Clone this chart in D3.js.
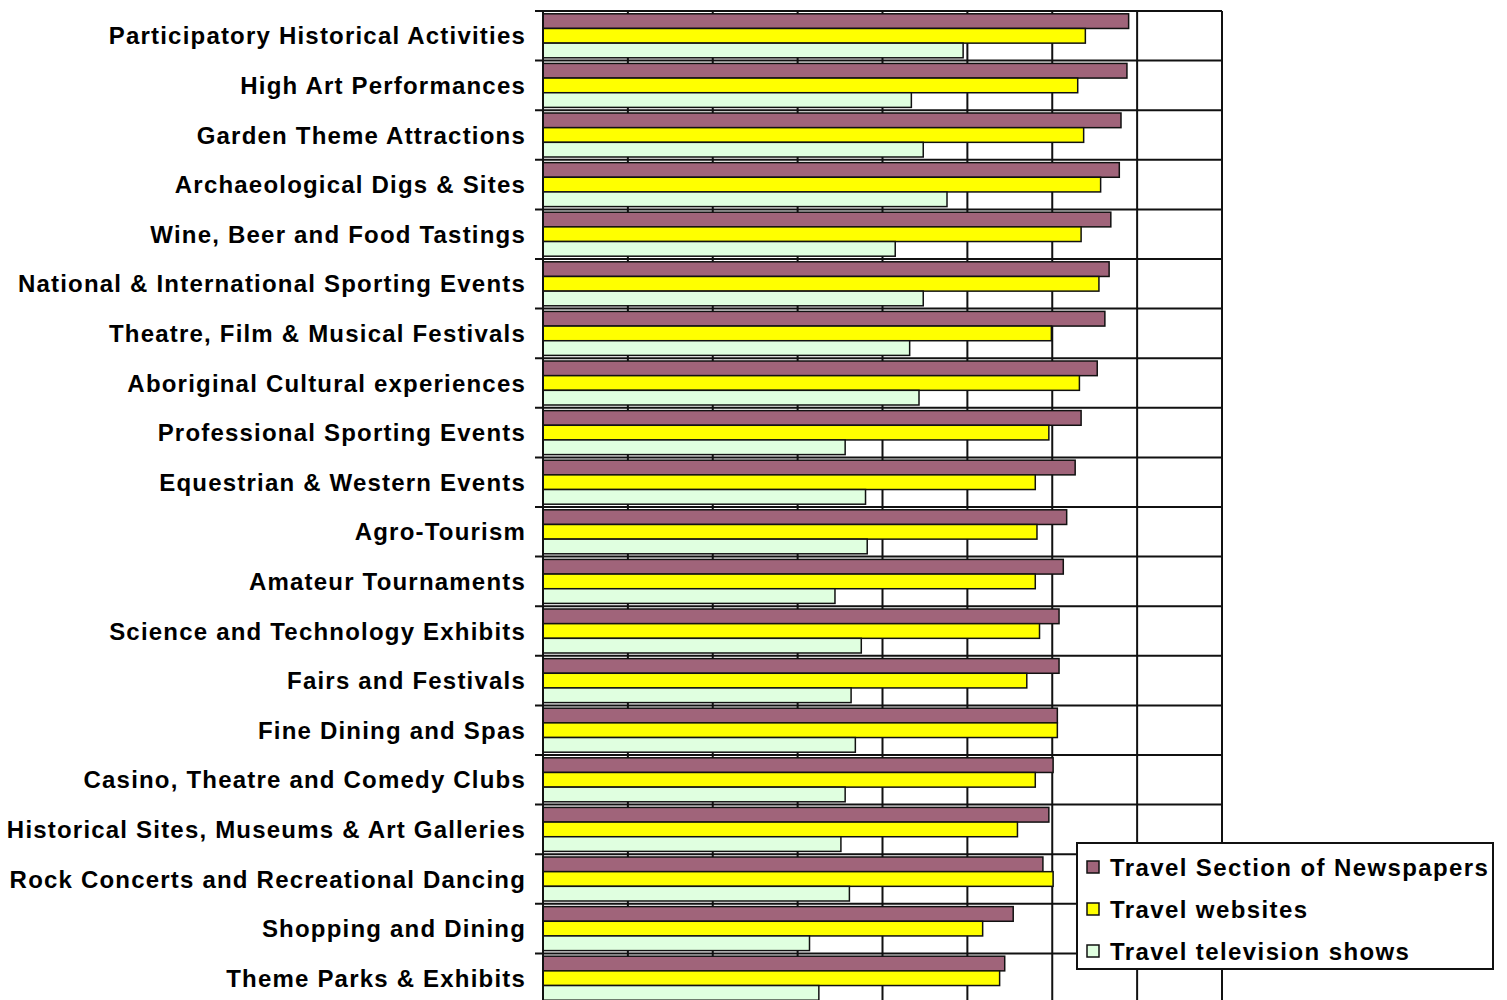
<!DOCTYPE html>
<html>
<head>
<meta charset="utf-8">
<script src="https://cdn.jsdelivr.net/npm/d3@7"></script>
<style>
  html, body { margin: 0; padding: 0; background: #fff; }
  svg { display: block; }
  text { font-family: "Liberation Sans", Arial, sans-serif; font-weight: bold; fill: #000; }
</style>
</head>
<body>
<svg id="chart" width="1507" height="1000"></svg>
<script>
// ---- data ----
const categories = [
  "Participatory Historical Activities",
  "High Art Performances",
  "Garden Theme Attractions",
  "Archaeological Digs & Sites",
  "Wine, Beer and Food Tastings",
  "National & International Sporting Events",
  "Theatre, Film & Musical Festivals",
  "Aboriginal Cultural experiences",
  "Professional Sporting Events",
  "Equestrian & Western Events",
  "Agro-Tourism",
  "Amateur Tournaments",
  "Science and Technology Exhibits",
  "Fairs and Festivals",
  "Fine Dining and Spas",
  "Casino, Theatre and Comedy Clubs",
  "Historical Sites, Museums & Art Galleries",
  "Rock Concerts and Recreational Dancing",
  "Shopping and Dining",
  "Theme Parks & Exhibits"
];
const seriesNames = ["Travel Section of Newspapers", "Travel websites", "Travel television shows"];
const newspapers = [69.0, 68.8, 68.1, 67.9, 66.9, 66.7, 66.2, 65.3, 63.4, 62.7, 61.7, 61.3, 60.8, 60.8, 60.6, 60.1, 59.6, 58.9, 55.4, 54.4];
const websites   = [63.9, 63.0, 63.7, 65.7, 63.4, 65.5, 59.9, 63.2, 59.6, 58.0, 58.2, 58.0, 58.5, 57.0, 60.6, 58.0, 55.9, 60.1, 51.8, 53.8];
const television = [49.5, 43.4, 44.8, 47.6, 41.5, 44.8, 43.2, 44.3, 35.6, 38.0, 38.2, 34.4, 37.5, 36.3, 36.8, 35.6, 35.1, 36.1, 31.4, 32.5];
const xTicks = [0, 10, 20, 30, 40, 50, 60, 70, 80];

const seriesValues = [newspapers, websites, television];
const colors = ["#A0647A", "#FFFF00", "#E0FFE0"];

// ---- layout ----
const svg = d3.select("#chart");
const plotLeft = 543, plotRight = 1222, plotTop = 11, band = 49.6;

const x = d3.scaleLinear().domain([0, 80]).range([plotLeft, plotRight]);
const y = d3.scaleBand().domain(categories).range([plotTop, plotTop + band * categories.length]).paddingInner(0).paddingOuter(0);
const yInner = d3.scaleBand().domain(seriesNames).range([2.8, band - 2.8]).padding(0);

const lineColor = "#111";

// horizontal grid lines at category boundaries (with ticks left of axis)
const boundaries = categories.map(c => y(c)).concat([y.range()[1]]);
svg.append("g").selectAll("line").data(boundaries).join("line")
  .attr("x1", plotLeft - 8).attr("x2", plotRight)
  .attr("y1", d => d).attr("y2", d => d)
  .attr("stroke", lineColor).attr("stroke-width", 2);

// vertical grid lines
svg.append("g").selectAll("line").data(xTicks.slice(1)).join("line")
  .attr("x1", d => x(d)).attr("x2", d => x(d))
  .attr("y1", plotTop).attr("y2", 1000)
  .attr("stroke", lineColor).attr("stroke-width", 2);

// bars
const rows = svg.append("g").selectAll("g").data(categories).join("g")
  .attr("transform", c => `translate(0,${y(c)})`);
rows.selectAll("rect").data((c, i) => seriesNames.map((s, k) => ({ s, k, v: seriesValues[k][i] })))
  .join("rect")
  .attr("x", x(0))
  .attr("y", d => yInner(d.s))
  .attr("width", d => x(d.v) - x(0))
  .attr("height", yInner.bandwidth())
  .attr("fill", d => colors[d.k])
  .attr("stroke", "#111").attr("stroke-width", 1.5);

// left axis line
svg.append("line").attr("x1", plotLeft).attr("x2", plotLeft).attr("y1", plotTop).attr("y2", 1000)
  .attr("stroke", lineColor).attr("stroke-width", 2);

// category labels
svg.append("g").selectAll("text").data(categories).join("text")
  .attr("x", 526)
  .attr("y", c => y(c) + band / 2 + 8.5)
  .attr("text-anchor", "end")
  .attr("font-size", 24)
  .attr("letter-spacing", "1.2px")
  .text(c => c);

// legend
const lg = svg.append("g");
lg.append("rect").attr("x", 1077).attr("y", 843).attr("width", 416).attr("height", 126)
  .attr("fill", "#fff").attr("stroke", lineColor).attr("stroke-width", 2);
const items = lg.selectAll("g.item").data(seriesNames).join("g").attr("class", "item")
  .attr("transform", (d, i) => `translate(1087,${867 + i * 42})`);
items.append("rect").attr("x", 0).attr("y", -6).attr("width", 12).attr("height", 12)
  .attr("fill", (d, i) => colors[i]).attr("stroke", "#111").attr("stroke-width", 1.5);
items.append("text").attr("x", 23).attr("y", 8.5)
  .attr("font-size", 24).attr("letter-spacing", "1.4px")
  .text(d => d);
</script>
</body>
</html>
